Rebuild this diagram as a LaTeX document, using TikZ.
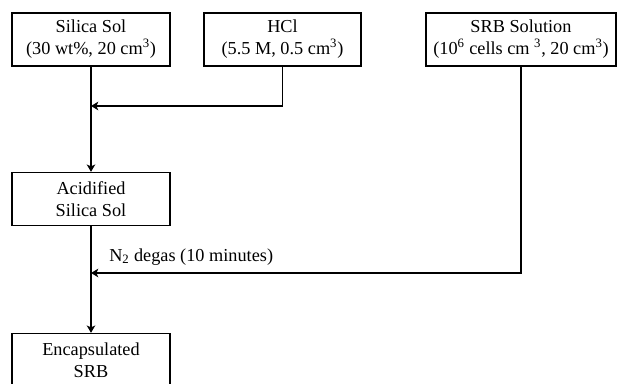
\documentclass[tikz,border=0pt]{standalone}
\usepackage{fontspec}
\setmainfont{Liberation Serif}
\usetikzlibrary{arrows.meta}

\begin{document}
\begin{tikzpicture}[x=0.75pt, y=-0.75pt,
	main/.style = {draw, line width=1.1pt, align=center, inner sep=0pt, minimum height=39.75pt, font=\fontsize{13.7}{16.5}\selectfont},
	edge/.style = {-{Stealth[length=5.5pt,width=6.5pt,inset=1.5pt]}, line width=0.9pt}]

	\useasboundingbox (0,0) rectangle (618,383);

	\node[main, minimum width=118.5pt] (sol) at (91,39.5) {Silica Sol\\(30 wt\%, 20 cm\textsuperscript{3})};
	\node[main, minimum width=117.75pt] (hcl) at (282.5,39.5) {HCl\\(5.5 M, 0.5 cm\textsuperscript{3})};
	\node[main, minimum width=142.5pt] (srb) at (521,39.5) {SRB Solution\\(10\textsuperscript{6} cells cm \textsuperscript{3}, 20 cm\textsuperscript{3})};
	\node[main, minimum width=118.5pt] (acid) at (91,199) {Acidified\\Silica Sol};
	\node[main, minimum width=118.5pt] (encap) at (91,360) {Encapsulated\\SRB};

	\coordinate (j1) at (91,106);
	\coordinate (j2) at (91,273);
	\node[anchor=base west, inner sep=0pt, font=\fontsize{13.7}{16.5}\selectfont] (degas) at (109,261) {N\textsubscript{2} degas (10 minutes)};

	\path[edge]
	(sol) edge (acid)
	(acid) edge (encap);

	\draw[edge] (hcl) |- (j1);
	\draw[edge] (srb) |- (j2);

\end{tikzpicture}
\end{document}
